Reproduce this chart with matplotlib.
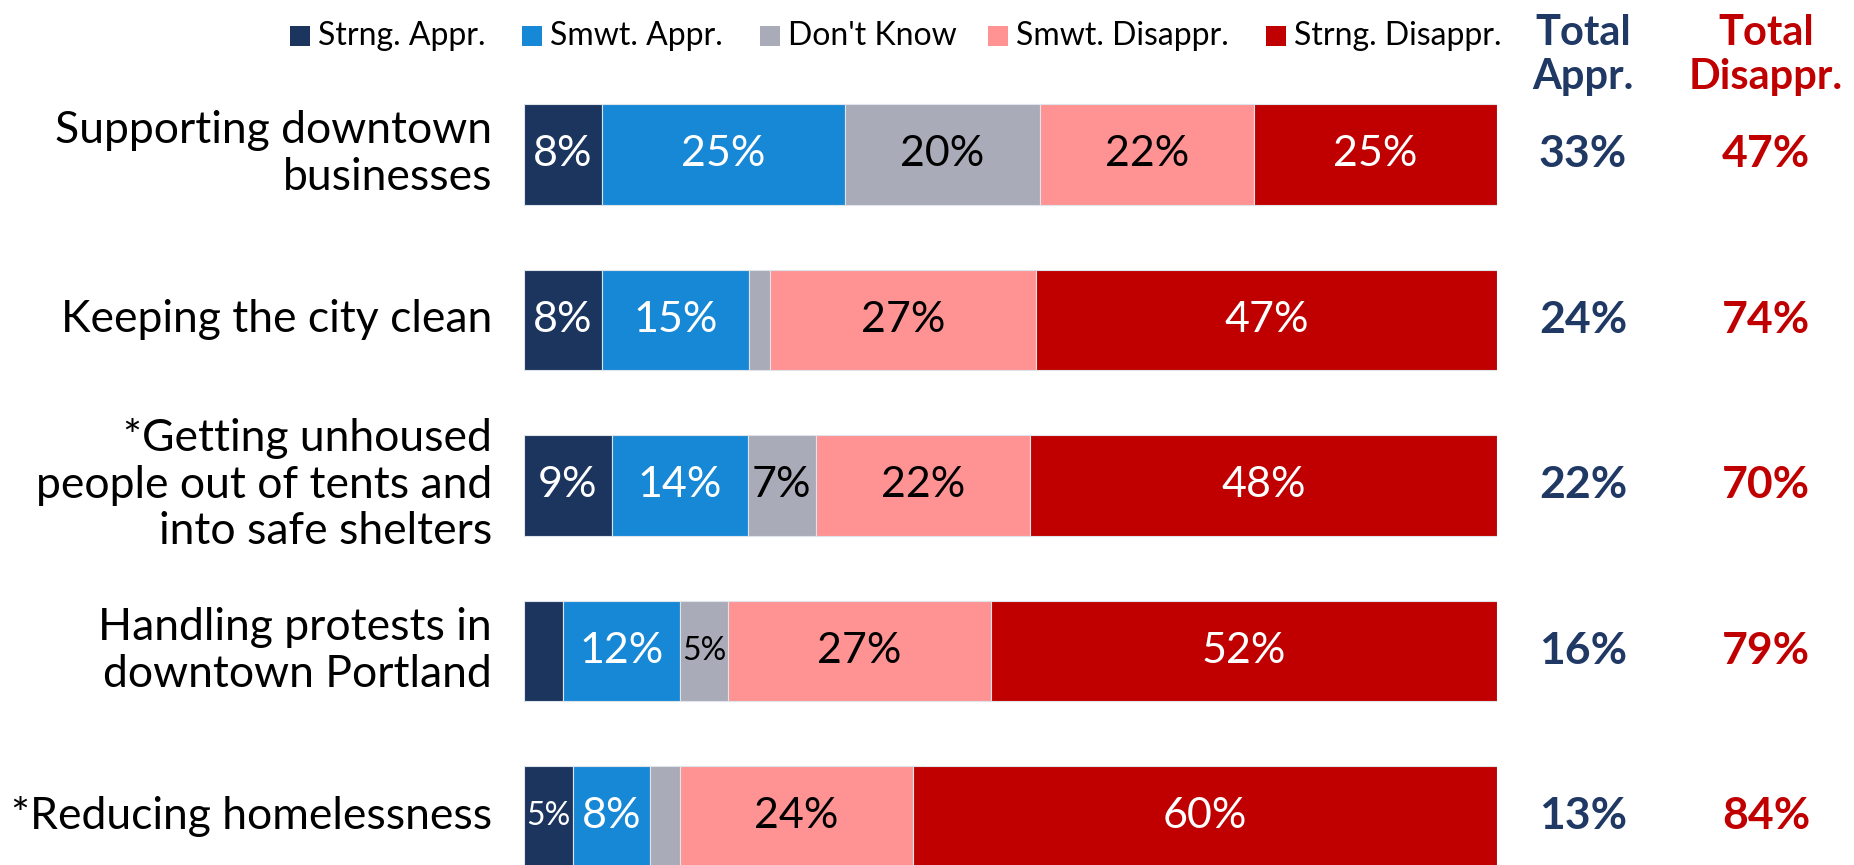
import numpy as np
import matplotlib.pyplot as plt
from matplotlib.patches import Rectangle

plt.rcParams['font.family'] = ['Lato', 'DejaVu Sans']

categories = ['Supporting downtown\nbusinesses',
              'Keeping the city clean',
              '*Getting unhoused\npeople out of tents and\ninto safe shelters',
              'Handling protests in\ndowntown Portland',
              '*Reducing homelessness']

series_names = ['Strng. Appr.', 'Smwt. Appr.', "Don't Know", 'Smwt. Disappr.', 'Strng. Disappr.']
# segment widths (labels are the rounded values)
strng_appr = [8, 8.0, 9, 4, 5]
smwt_appr = [25, 15.1, 14, 12, 8]
dont_know = [20, 2.2, 7, 5, 3]
smwt_disappr = [22, 27.3, 22, 27, 24]
strng_disappr = [25, 47.4, 48, 52, 60]

total_appr = [33, 24, 22, 16, 13]
total_disappr = [47, 74, 70, 79, 84]

colors = ['#1c355e', '#1788d6', '#a9abb8', '#ff9393', '#c00000']
text_colors = ['white', 'white', 'black', 'black', 'white']
navy = '#1f3864'
red = '#c00000'

W, H = 1854, 865
fig = plt.figure(figsize=(W / 100, H / 100), dpi=100)

bar_left, bar_right = 524, 1497
row0, row_step = 154.3, 165.5
ax = fig.add_axes([bar_left / W, 0, (bar_right - bar_left) / W, 1])
ax.set_xlim(0, 100)
ax.set_ylim((H - row0) / row_step, -row0 / row_step)
ax.axis('off')

series = [strng_appr, smwt_appr, dont_know, smwt_disappr, strng_disappr]
y = np.arange(len(categories))
left = np.zeros(len(categories))
for vals, col, tc in zip(series, colors, text_colors):
    vals = np.array(vals, dtype=float)
    ax.barh(y, vals, left=left, height=0.607, color=col, edgecolor='#dfe3ea', linewidth=0.8)
    for yi, v, l in zip(y, vals, left):
        v_r = int(round(v))
        if v_r >= 5:
            fs = 23 if v_r == 5 else 31
            ax.text(l + v / 2, yi, f'{v_r}%', ha='center', va='center', color=tc, fontsize=fs)
    left = left + vals

for yi, cat in zip(y, categories):
    ax.text(-3.3, yi, cat, ha='right', va='center', fontsize=32, linespacing=1.17)

xa = (1583 - bar_left) / (bar_right - bar_left) * 100
xd = (1766 - bar_left) / (bar_right - bar_left) * 100
for yi, a, d in zip(y, total_appr, total_disappr):
    ax.text(xa, yi, f'{a}%', ha='center', va='center', color=navy, fontsize=32, fontweight='bold')
    ax.text(xd, yi, f'{d}%', ha='center', va='center', color=red, fontsize=32, fontweight='bold')

fig.text(1583 / W, 1 - 55 / H, 'Total\nAppr.', ha='center', va='center', color=navy,
         fontsize=30, fontweight='bold', linespacing=1.22)
fig.text(1766 / W, 1 - 55 / H, 'Total\nDisappr.', ha='center', va='center', color=red,
         fontsize=30, fontweight='bold', linespacing=1.22)

# legend row, laid out by hand to follow the original spacing
legend_x = [290, 522, 760, 988, 1266]
legend_y = 36
sq = 20
for lx, c, n in zip(legend_x, colors, series_names):
    fig.patches.append(Rectangle((lx / W, 1 - (legend_y + sq / 2) / H), sq / W, sq / H,
                                 transform=fig.transFigure, facecolor=c, edgecolor='none'))
    fig.text((lx + sq + 8) / W, 1 - legend_y / H, n, ha='left', va='center', fontsize=23)

fig.savefig('out.png', dpi=100)
